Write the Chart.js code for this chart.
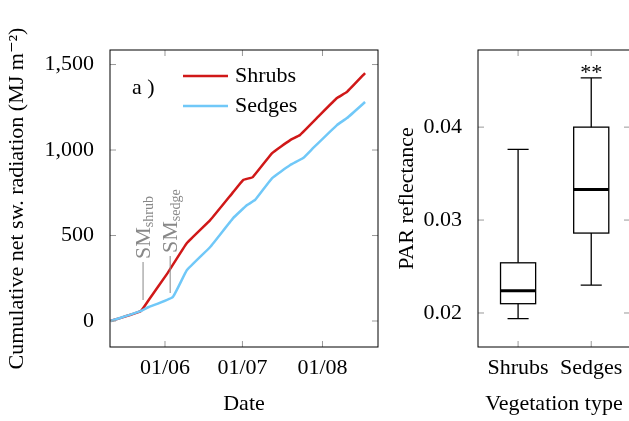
<!DOCTYPE html>
<html>
<head>
<meta charset="utf-8">
<script src="https://cdn.jsdelivr.net/npm/chart.js@4"></script>
<style>
body { margin: 0; width: 629px; height: 421px; overflow: hidden; background: #fff; position: relative; }
#wrapA { position: absolute; left: 0; top: 0; width: 385px; height: 421px; }
#wrapB { position: absolute; left: 390px; top: 0; width: 245px; height: 421px; }
</style>
</head>
<body>
<div id="wrapA"><canvas id="lineChart"></canvas></div>
<div id="wrapB"><canvas id="boxChart"></canvas></div>
<script>
// 日期用年內第幾天 (day of year)
const shrubDays = [131, 142.6, 145.7, 153, 160.5, 169.5, 178.4, 182.3, 186, 193.5, 200.5, 204.3, 212, 218.6, 222.5, 229.5];
const shrubVals = [0, 58, 123, 280, 456, 590, 754, 825, 842, 982, 1058, 1088, 1205, 1304, 1340, 1450];
const sedgeDays = [131, 142.6, 145.7, 155, 160.5, 169.5, 178.4, 183.8, 186.9, 193.5, 200.5, 205.5, 209.4, 218.6, 222.5, 229.5];
const sedgeVals = [0, 58, 82, 140, 298, 433, 602, 678, 708, 836, 912, 953, 1012, 1146, 1187, 1281];
const dateTicks = [152, 182, 213];
const dateLabels = ['01/06', '01/07', '01/08'];
const smDays = [143.5, 154];
const smLabels = ['shrub', 'sedge'];

const boxCats = ['Shrubs', 'Sedges'];
const boxMin = [0.0194, 0.0230];
const boxQ1 = [0.0210, 0.0286];
const boxMed = [0.0224, 0.0333];
const boxQ3 = [0.0254, 0.0400];
const boxMax = [0.0376, 0.0453];
const boxMarks = ['', '**'];

const SERIF = '"Liberation Serif", "DejaVu Serif", serif';
const FS = 22;
const RED = '#d01818';
const BLUE = '#70c8f8';

function toPoints(xs, ys) {
    return xs.map((x, i) => ({ x: x, y: ys[i] }));
}

// 框線與內側刻度
function drawFrame(chart, xTicks, yTicks) {
    const { ctx, chartArea: a, scales } = chart;
    ctx.save();
    ctx.strokeStyle = '#999';
    ctx.lineWidth = 1;
    xTicks.forEach(v => {
        const px = scales.x.getPixelForValue(v);
        ctx.beginPath();
        ctx.moveTo(px, a.bottom); ctx.lineTo(px, a.bottom - 6);
        ctx.moveTo(px, a.top); ctx.lineTo(px, a.top + 6);
        ctx.stroke();
    });
    yTicks.forEach(v => {
        const py = scales.y.getPixelForValue(v);
        ctx.beginPath();
        ctx.moveTo(a.left, py); ctx.lineTo(a.left + 6, py);
        ctx.moveTo(a.right, py); ctx.lineTo(a.right - 6, py);
        ctx.stroke();
    });
    ctx.strokeStyle = '#000';
    ctx.strokeRect(a.left, a.top, a.right - a.left, a.bottom - a.top);
    ctx.restore();
}

const lineDecor = {
    id: 'lineDecor',
    afterDatasetsDraw(chart) {
        const { ctx, scales } = chart;
        drawFrame(chart, dateTicks, [0, 500, 1000, 1500]);
        ctx.save();
        ctx.font = FS + 'px ' + SERIF;
        ctx.fillStyle = '#000';
        ctx.textBaseline = 'middle';
        ctx.fillText('a )', 132, 88);
        ctx.lineWidth = 2.5;
        [[RED, 'Shrubs', 76], [BLUE, 'Sedges', 106]].forEach(([c, t, y]) => {
            ctx.strokeStyle = c;
            ctx.beginPath(); ctx.moveTo(183, y); ctx.lineTo(228, y); ctx.stroke();
            ctx.fillText(t, 235, y);
        });
        // SM 標註
        ctx.strokeStyle = '#888';
        ctx.fillStyle = '#888';
        ctx.lineWidth = 1;
        smDays.forEach((d, i) => {
            const px = scales.x.getPixelForValue(d);
            const bottom = i === 0 ? 300 : 293;
            const top = i === 0 ? 262 : 256;
            ctx.beginPath(); ctx.moveTo(px, bottom); ctx.lineTo(px, top); ctx.stroke();
            ctx.save();
            ctx.translate(px + 7, top - 3);
            ctx.rotate(-Math.PI / 2);
            ctx.textBaseline = 'alphabetic';
            ctx.textAlign = 'left';
            ctx.font = FS + 'px ' + SERIF;
            ctx.fillText('SM', 0, 0);
            const w = ctx.measureText('SM').width;
            ctx.font = '14px ' + SERIF;
            ctx.fillText(smLabels[i], w, 3);
            ctx.restore();
        });
        ctx.restore();
    }
};

new Chart(document.getElementById('lineChart'), {
    type: 'line',
    data: {
        datasets: [
            { label: 'Sedges', data: toPoints(sedgeDays, sedgeVals), borderColor: BLUE, borderWidth: 2.5, pointRadius: 0, tension: 0.1 },
            { label: 'Shrubs', data: toPoints(shrubDays, shrubVals), borderColor: RED, borderWidth: 2.5, pointRadius: 0, tension: 0.1 }
        ]
    },
    options: {
        responsive: true,
        maintainAspectRatio: false,
        animation: false,
        layout: { padding: { top: 50, right: 7 } },
        plugins: { legend: { display: false }, tooltip: { enabled: false } },
        scales: {
            x: {
                type: 'linear', min: 130.7, max: 234.5,
                afterBuildTicks: axis => { axis.ticks = dateTicks.map(v => ({ value: v })); },
                afterFit: axis => { axis.height = 74; },
                grid: { display: false },
                border: { display: false },
                ticks: { color: '#000', font: { family: SERIF, size: FS }, padding: 0, maxRotation: 0, callback: v => dateLabels[dateTicks.indexOf(v)] },
                title: { display: true, text: 'Date', color: '#000', font: { family: SERIF, size: FS }, padding: { top: 2 } }
            },
            y: {
                min: -152, max: 1585,
                afterBuildTicks: axis => { axis.ticks = [0, 500, 1000, 1500].map(v => ({ value: v })); },
                afterFit: axis => { axis.width = 110; },
                grid: { display: false },
                border: { display: false },
                ticks: { color: '#000', font: { family: SERIF, size: FS }, padding: 8, callback: v => v.toLocaleString('en-US') },
                title: { display: true, text: 'Cumulative net sw. radiation (MJ m\u207B\u00B2)', color: '#000', font: { family: SERIF, size: FS }, padding: { bottom: 2 } }
            }
        }
    },
    plugins: [lineDecor]
});

const boxDecor = {
    id: 'boxDecor',
    afterDatasetsDraw(chart) {
        const { ctx, scales } = chart;
        const x = scales.x, y = scales.y;
        const half = (x.getPixelForValue(1.24) - x.getPixelForValue(1)) ;
        ctx.save();
        ctx.strokeStyle = '#000';
        ctx.lineWidth = 1.3;
        boxCats.forEach((c, i) => {
            const cx = x.getPixelForValue(i + 1);
            const cap = half * 0.6;
            ctx.beginPath();
            ctx.moveTo(cx, y.getPixelForValue(boxQ3[i])); ctx.lineTo(cx, y.getPixelForValue(boxMax[i]));
            ctx.moveTo(cx - cap, y.getPixelForValue(boxMax[i])); ctx.lineTo(cx + cap, y.getPixelForValue(boxMax[i]));
            ctx.moveTo(cx, y.getPixelForValue(boxQ1[i])); ctx.lineTo(cx, y.getPixelForValue(boxMin[i]));
            ctx.moveTo(cx - cap, y.getPixelForValue(boxMin[i])); ctx.lineTo(cx + cap, y.getPixelForValue(boxMin[i]));
            ctx.stroke();
            const top = y.getPixelForValue(boxQ3[i]);
            const bot = y.getPixelForValue(boxQ1[i]);
            ctx.strokeRect(cx - half, top, half * 2, bot - top);
            ctx.lineWidth = 3;
            ctx.beginPath();
            ctx.moveTo(cx - half, y.getPixelForValue(boxMed[i])); ctx.lineTo(cx + half, y.getPixelForValue(boxMed[i]));
            ctx.stroke();
            ctx.lineWidth = 1.3;
            if (boxMarks[i]) {
                ctx.fillStyle = '#000';
                ctx.font = FS + 'px ' + SERIF;
                ctx.textAlign = 'center';
                ctx.textBaseline = 'alphabetic';
                ctx.fillText(boxMarks[i], cx, y.getPixelForValue(boxMax[i]) + 1);
            }
        });
        ctx.restore();
        drawFrame(chart, [1, 2], [0.02, 0.03, 0.04]);
        ctx.save();
        ctx.font = FS + 'px ' + SERIF;
        ctx.fillStyle = '#000';
        ctx.textBaseline = 'middle';
        ctx.fillText('b )', 495, 88);
        ctx.restore();
    }
};

new Chart(document.getElementById('boxChart'), {
    type: 'scatter',
    data: { datasets: [{ data: boxMed.map((m, i) => ({ x: i + 1, y: m })), pointRadius: 0 }] },
    options: {
        responsive: true,
        maintainAspectRatio: false,
        animation: false,
        layout: { padding: { top: 50, right: 5 } },
        plugins: { legend: { display: false }, tooltip: { enabled: false } },
        scales: {
            x: {
                type: 'linear', min: 0.452, max: 2.53,
                afterBuildTicks: axis => { axis.ticks = [1, 2].map(v => ({ value: v })); },
                afterFit: axis => { axis.height = 74; },
                grid: { display: false },
                border: { display: false },
                ticks: { color: '#000', font: { family: SERIF, size: FS }, padding: 0, maxRotation: 0, callback: v => boxCats[v - 1] },
                title: { display: true, text: 'Vegetation type', color: '#000', font: { family: SERIF, size: FS }, padding: { top: 6 } }
            },
            y: {
                min: 0.01634, max: 0.0483,
                afterBuildTicks: axis => { axis.ticks = [0.02, 0.03, 0.04].map(v => ({ value: v })); },
                afterFit: axis => { axis.width = 88; },
                grid: { display: false },
                border: { display: false },
                ticks: { color: '#000', font: { family: SERIF, size: FS }, padding: 8, callback: v => v.toFixed(2) },
                title: { display: true, text: 'PAR reflectance', color: '#000', font: { family: SERIF, size: FS }, padding: { bottom: 2 } }
            }
        }
    },
    plugins: [boxDecor]
});
</script>
</body>
</html>
